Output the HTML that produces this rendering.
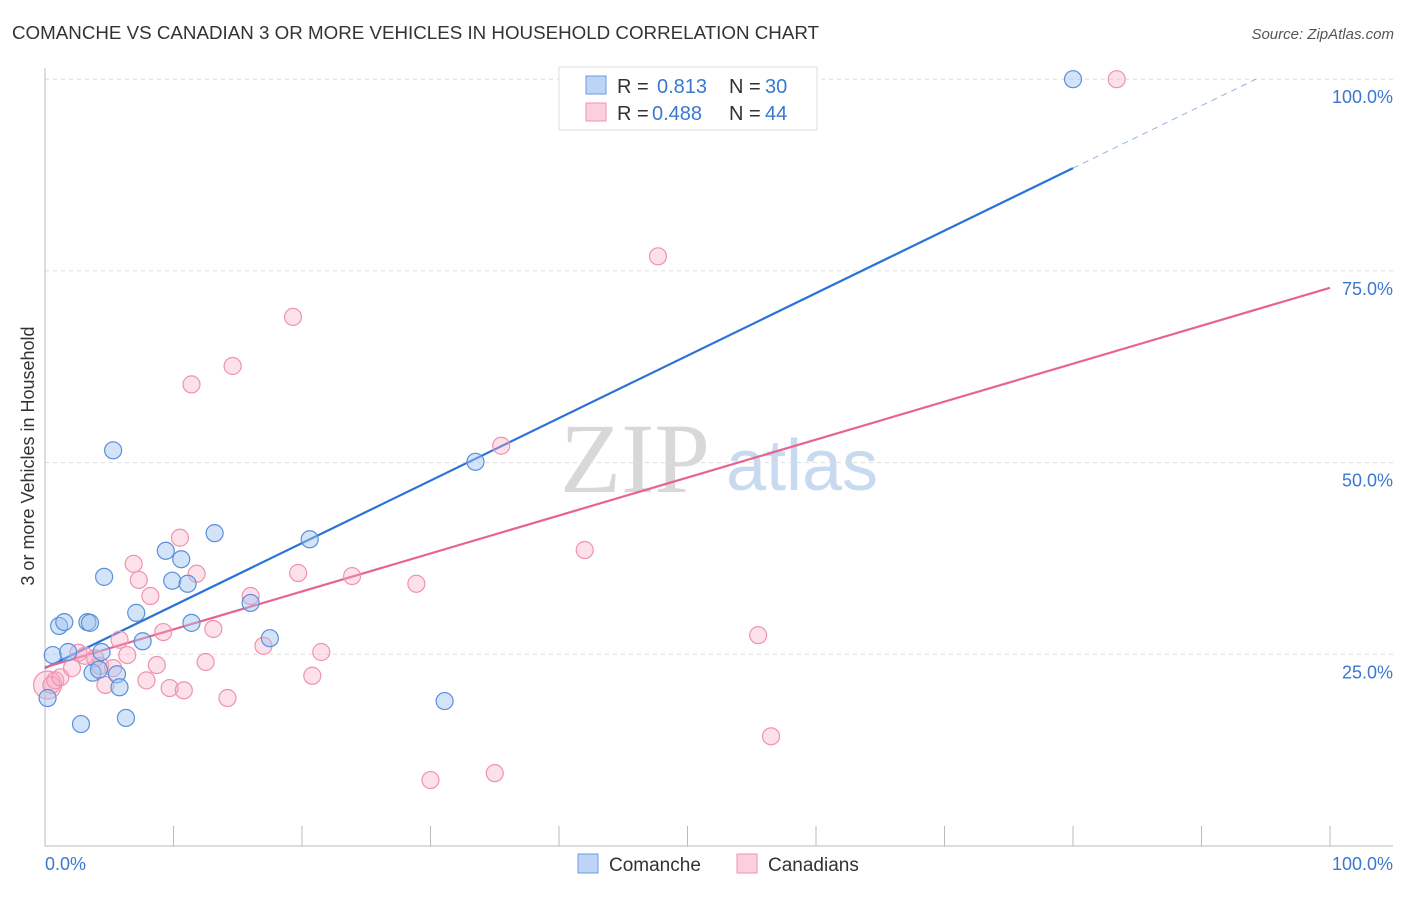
<!DOCTYPE html>
<html><head><meta charset="utf-8"><style>
body{margin:0;background:#fff;font-family:"Liberation Sans",sans-serif;}
svg text{font-family:"Liberation Sans",sans-serif;}
</style></head><body>
<svg id="c" width="1406" height="892">
<text x="12" y="39" font-size="18" fill="#333" textLength="807" lengthAdjust="spacingAndGlyphs">COMANCHE VS CANADIAN 3 OR MORE VEHICLES IN HOUSEHOLD CORRELATION CHART</text>
<text x="1394" y="39" font-size="15" fill="#555" text-anchor="end" font-style="italic">Source: ZipAtlas.com</text>
<text x="635" y="492" font-size="100" fill="#d8d8d8" style="font-family:'Liberation Serif',serif" text-anchor="middle">ZIP</text>
<text x="802" y="490" font-size="72" fill="#c8daf0" text-anchor="middle">atlas</text>
<g id="grid"></g>
<g id="axes"></g>
<g id="lines"></g>
<g id="pts"></g>
<text transform="translate(34,456) rotate(-90)" font-size="18" fill="#333" text-anchor="middle">3 or more Vehicles in Household</text>
<text x="45" y="870" font-size="18" fill="#3a78d0">0.0%</text>
<text x="1393" y="870" font-size="18" fill="#3a78d0" text-anchor="end">100.0%</text>
<g>
<rect x="559" y="67" width="258" height="63" fill="#fff" stroke="#ddd"/>
<rect x="586" y="76" width="20" height="18" fill="#bcd4f5" stroke="#6b9be0"/>
<rect x="586" y="103" width="20" height="18" fill="#fbd0dc" stroke="#ef93ae"/>
<text x="617" y="93" font-size="20" fill="#333">R =</text><text x="657" y="93" font-size="20" fill="#3a78d0">0.813</text>
<text x="729" y="93" font-size="20" fill="#333">N =</text><text x="765" y="93" font-size="20" fill="#3a78d0">30</text>
<text x="617" y="120" font-size="20" fill="#333">R =</text><text x="652" y="120" font-size="20" fill="#3a78d0">0.488</text>
<text x="729" y="120" font-size="20" fill="#333">N =</text><text x="765" y="120" font-size="20" fill="#3a78d0">44</text>
</g>
<g>
<rect x="578" y="854" width="20" height="19" fill="#bcd4f5" stroke="#6b9be0"/>
<text x="609" y="871" font-size="19" fill="#333">Comanche</text>
<rect x="737" y="854" width="20" height="19" fill="#fbd0dc" stroke="#ef93ae"/>
<text x="768" y="871" font-size="19" fill="#333">Canadians</text>
</g>
</svg>
<script>
const yTicks=[25,50,75,100];
const yTickLabels=["25.0%","50.0%","75.0%","100.0%"];
const xTicks=[0,10,20,30,40,50,60,70,80,90,100];
const comX=[0.2,0.6,1.1,1.5,1.8,2.8,3.3,3.5,3.7,4.2,4.4,4.6,5.3,5.6,5.8,6.3,7.1,7.6,9.4,9.9,10.6,11.1,11.4,13.2,16.0,17.5,20.6,31.1,33.5,80.0];
const comY=[19.3,24.9,28.7,29.2,25.3,15.9,29.2,29.1,22.6,23.0,25.3,35.1,51.6,22.4,20.7,16.7,30.4,26.7,38.5,34.6,37.4,34.2,29.1,40.8,31.7,27.1,40.0,18.9,50.1,100];
const canX=[0.2,0.5,0.8,1.2,2.1,2.6,3.1,3.9,4.3,4.7,5.3,5.8,6.4,6.9,7.3,7.9,8.2,8.7,9.2,9.7,10.5,10.8,11.8,12.5,13.1,11.4,14.2,14.6,16.0,17.0,19.3,19.7,20.8,21.5,23.9,28.9,30.0,35.0,35.5,42.0,47.7,55.5,56.5,83.4];
const canY=[21.0,21.0,21.6,22.0,23.2,25.2,24.8,24.5,23.5,21.0,23.2,26.9,24.9,36.8,34.7,21.6,32.6,23.6,27.9,20.6,40.2,20.3,35.5,24.0,28.3,60.2,19.3,62.6,32.6,26.1,69.0,35.6,22.2,25.3,35.2,34.2,8.6,9.5,52.2,38.6,76.9,27.5,14.3,100];
const comLine=[23.2,88.4]; // y at x=0, x=80
const canLine=[23.3,72.8]; // y at x=0, x=100
const X=v=>45+v*12.85, Y=v=>846-v*7.668;
const NS="http://www.w3.org/2000/svg";
function mk(t,a,p){const e=document.createElementNS(NS,t);for(const k in a)e.setAttribute(k,a[k]);p.appendChild(e);return e;}
const grid=document.getElementById('grid'),axes=document.getElementById('axes'),lines=document.getElementById('lines'),pts=document.getElementById('pts');
yTicks.forEach((t,i)=>{
 const l=mk('line',{x1:45,x2:1393,y1:Y(t),y2:Y(t),stroke:'#ddd','stroke-dasharray':'4,4'},grid);
 
 
 const tx=mk('text',{x:1393,y:Y(t)+24,'font-size':18,fill:'#3a78d0','text-anchor':'end'},grid);
 tx.textContent=yTickLabels[i];
 
 
});
mk('line',{x1:45,x2:45,y1:68,y2:846,stroke:'#bbb'},axes);
mk('line',{x1:45,x2:1393,y1:846,y2:846,stroke:'#bbb'},axes);
xTicks.forEach(t=>{const l=mk('line',{x1:X(t),x2:X(t),y1:826,y2:846,stroke:'#bbb'},axes);
 
 });
let l1=mk('line',{x1:X(0),y1:Y(comLine[0]),x2:X(80),y2:Y(comLine[1]),stroke:'#2a72d6','stroke-width':2.2},lines);


const sl=(comLine[1]-comLine[0])/80, xe=(100-comLine[0])/sl;
let l2=mk('line',{x1:X(80),y1:Y(comLine[1]),x2:X(xe),y2:Y(100),stroke:'#8fb3e6','stroke-width':1,'stroke-dasharray':'6,5'},lines);


let l3=mk('line',{x1:X(0),y1:Y(canLine[0]),x2:X(100),y2:Y(canLine[1]),stroke:'#e8648f','stroke-width':2.2},lines);


canX.forEach((x,i)=>{const c=mk('circle',{cx:X(x),cy:Y(canY[i]),r:i==0?14:8.5,fill:'rgba(247,170,195,0.35)',stroke:'#ef93ae','stroke-width':1.2},pts);
 
 });
comX.forEach((x,i)=>{const c=mk('circle',{cx:X(x),cy:Y(comY[i]),r:8.5,fill:'rgba(160,195,240,0.45)',stroke:'#5a8fdc','stroke-width':1.2},pts);
 
 });
</script>
</body></html>
